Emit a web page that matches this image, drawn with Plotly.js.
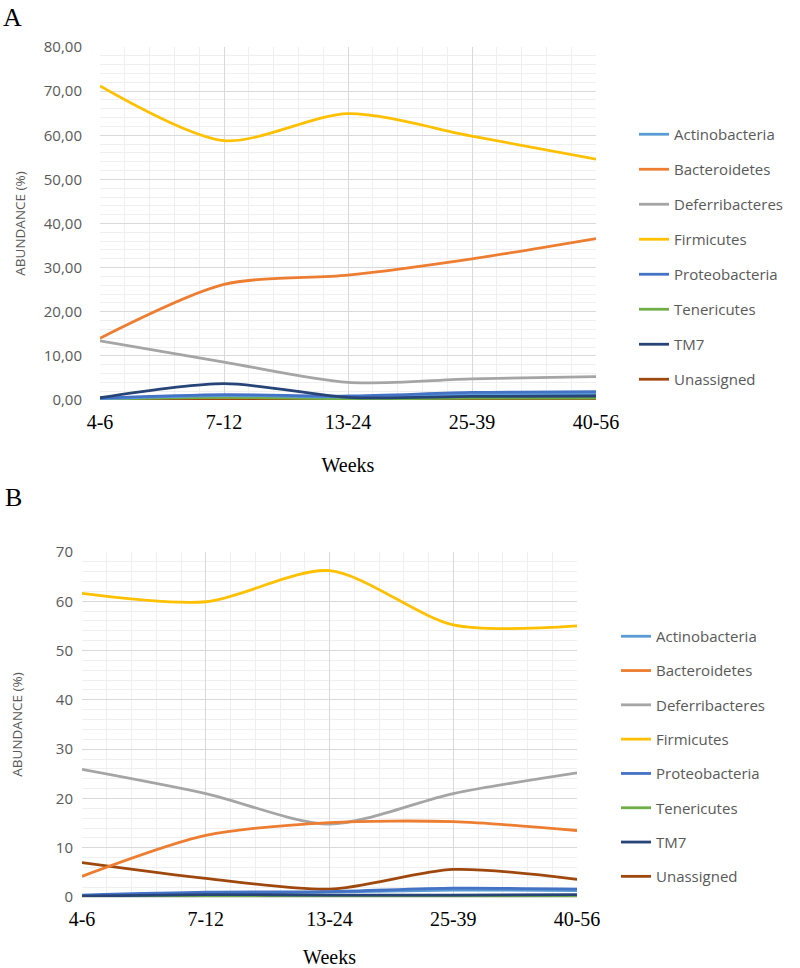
<!DOCTYPE html>
<html>
<head>
<meta charset="utf-8">
<script src="https://cdn.plot.ly/plotly-3.0.1.min.js"></script>
<style>html,body{margin:0;padding:0;background:#fff;}#chart{width:800px;height:968px;}</style>
</head>
<body>
<div id="chart"></div>
<script>
const weeks = ["4-6", "7-12", "13-24", "25-39", "40-56"];
const phyla = ["Actinobacteria", "Bacteroidetes", "Deferribacteres", "Firmicutes", "Proteobacteria", "Tenericutes", "TM7", "Unassigned"];
const colors = ["#5B9BD5", "#ED7D31", "#A5A5A5", "#FFC000", "#4472C4", "#70AD47", "#264478", "#9E480E"];

// Panel A
const A_Actinobacteria  = [0.3, 1.0, 0.7, 1.2, 1.4];
const A_Bacteroidetes   = [14.0, 26.2, 28.3, 32.0, 36.6];
const A_Deferribacteres = [13.4, 8.6, 4.0, 4.8, 5.3];
const A_Firmicutes      = [71.2, 58.8, 64.9, 59.8, 54.6];
const A_Proteobacteria  = [0.4, 1.2, 0.9, 1.7, 1.9];
const A_Tenericutes     = [0.2, 0.6, 0.3, 0.4, 0.4];
const A_TM7             = [0.5, 3.7, 0.6, 0.8, 0.9];
const A_Unassigned      = [0.1, 0.1, 0.1, 0.1, 0.1];

// Panel B
const B_Actinobacteria  = [0.3, 0.8, 1.0, 1.4, 1.3];
const B_Bacteroidetes   = [4.2, 12.5, 15.1, 15.3, 13.5];
const B_Deferribacteres = [25.9, 21.0, 14.8, 21.0, 25.2];
const B_Firmicutes      = [61.6, 59.9, 66.2, 55.2, 55.0];
const B_Proteobacteria  = [0.4, 1.0, 1.1, 1.8, 1.6];
const B_Tenericutes     = [0.1, 0.2, 0.2, 0.2, 0.2];
const B_TM7             = [0.2, 0.5, 0.4, 0.4, 0.5];
const B_Unassigned      = [7.0, 3.8, 1.6, 5.6, 3.6];

const seriesA = [A_Actinobacteria, A_Bacteroidetes, A_Deferribacteres, A_Firmicutes, A_Proteobacteria, A_Tenericutes, A_TM7, A_Unassigned];
const seriesB = [B_Actinobacteria, B_Bacteroidetes, B_Deferribacteres, B_Firmicutes, B_Proteobacteria, B_Tenericutes, B_TM7, B_Unassigned];

const xpos = weeks.map((w, i) => i);
// draw order: so that large lines sit on top as in the original
const drawOrder = [7, 5, 0, 4, 6, 2, 1, 3];

const traces = [];
function addPanel(series, xa, ya, legendName) {
  const arr = [];
  phyla.forEach((p, i) => {
    arr.push({
      type: 'scatter', mode: 'lines', name: p,
      x: xpos, y: series[i], xaxis: xa, yaxis: ya,
      line: {color: colors[i], width: 2.8, shape: 'spline', smoothing: 0.8},
      legend: legendName, legendgroup: legendName + p, legendrank: i + 1,
      hoverinfo: 'x+y+name'
    });
  });
  drawOrder.forEach(k => traces.push(arr[k]));
}
addPanel(seriesA, 'x', 'y', 'legend');
addPanel(seriesB, 'x2', 'y2', 'legend2');

const tickFontGray = {family: '"Open Sans", sans-serif', size: 15, color: '#595959'};
const serif = 'Liberation Serif, "Times New Roman", serif';

function xaxisDef(domain, anchor, standoff) {
  return {
    domain: domain, anchor: anchor, range: [0, 4], tickvals: xpos, ticktext: weeks,
    showgrid: true, gridcolor: '#d9d9d9', gridwidth: 1, zeroline: false, showline: false,
    ticks: '', ticklabelstandoff: 8,
    tickfont: {family: serif, size: 20, color: '#000'},
    minor: {dtick: 0.2, showgrid: true, gridcolor: '#efefef', gridwidth: 1},
    title: {text: 'Weeks', font: {family: serif, size: 20, color: '#000'}, standoff: standoff},
    fixedrange: true
  };
}
function yaxisDef(domain, anchor, range, dtick, fmt, lblStandoff, titleStandoff) {
  return {
    domain: domain, anchor: anchor, range: range, dtick: dtick, tickformat: fmt,
    showgrid: true, gridcolor: '#d9d9d9', gridwidth: 1, zeroline: true, zerolinecolor: '#d9d9d9', zerolinewidth: 1,
    showline: false, ticks: '', ticklabelstandoff: lblStandoff,
    tickfont: tickFontGray,
    minor: {dtick: 2, showgrid: true, gridcolor: '#efefef', gridwidth: 1},
    title: {text: 'ABUNDANCE (%)', font: {family: '"Open Sans", sans-serif', size: 13.5, color: '#595959'}, standoff: titleStandoff},
    fixedrange: true
  };
}

const legendFont = {family: '"Open Sans", sans-serif', size: 15, color: '#595959'};

const layout = {
  width: 800, height: 968,
  margin: {l: 0, r: 0, t: 0, b: 0},
  paper_bgcolor: '#ffffff', plot_bgcolor: '#ffffff',
  separators: ',.',
  showlegend: true,
  xaxis: xaxisDef([0.125, 0.745], 'y', 26),
  yaxis: yaxisDef([0.5868, 0.9514], 'x', [0, 80], 10, '.2f', 17, 15),
  xaxis2: xaxisDef([0.1025, 0.7213], 'y2', 20),
  yaxis2: yaxisDef([0.0733, 0.4298], 'x2', [0, 70], 10, 'd', 8, 30),
  legend: {x: 634/800, xanchor: 'left', y: 1 - 118/968, yanchor: 'top', font: legendFont,
           traceorder: 'grouped', tracegroupgap: 12.5, itemwidth: 30, bgcolor: 'rgba(0,0,0,0)'},
  legend2: {x: 616/800, xanchor: 'left', y: 1 - 620/968, yanchor: 'top', font: legendFont,
            traceorder: 'grouped', tracegroupgap: 11.8, itemwidth: 30, bgcolor: 'rgba(0,0,0,0)'},
  annotations: [
    {text: 'A', x: 12/800, y: 1 - 18/968, xref: 'paper', yref: 'paper', xanchor: 'center', yanchor: 'middle',
     showarrow: false, font: {family: serif, size: 26, color: '#000'}},
    {text: 'B', x: 13/800, y: 1 - 497/968, xref: 'paper', yref: 'paper', xanchor: 'center', yanchor: 'middle',
     showarrow: false, font: {family: serif, size: 26, color: '#000'}}
  ]
};

Plotly.newPlot('chart', traces, layout, {displayModeBar: false, staticPlot: true});
</script>
</body>
</html>
